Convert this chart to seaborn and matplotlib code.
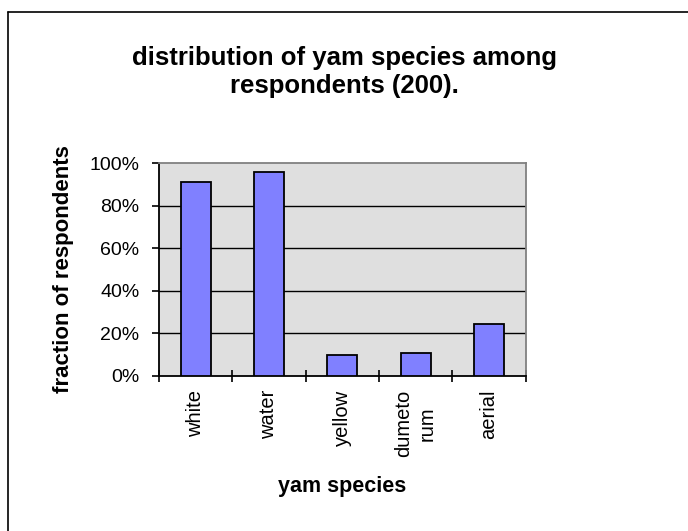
import matplotlib
matplotlib.use("Agg")
import matplotlib.pyplot as plt
from matplotlib.lines import Line2D
from matplotlib.ticker import PercentFormatter, FixedLocator
import seaborn as sns
import pandas as pd

species = ["white", "water", "yellow", "dumeto\nrum", "aerial"]
fraction = [0.91, 0.96, 0.095, 0.105, 0.245]
y_ticks = [0.0, 0.2, 0.4, 0.6, 0.8, 1.0]

sns.set_theme(style="white")
plt.rcParams["font.family"] = ["Liberation Sans", "DejaVu Sans"]
plt.rcParams["text.color"] = "black"
plt.rcParams["axes.labelcolor"] = "black"
plt.rcParams["xtick.color"] = "black"
plt.rcParams["ytick.color"] = "black"

df = pd.DataFrame({"species": species, "fraction": fraction})

fig = plt.figure(figsize=(6.88, 5.31), dpi=100)
ax = fig.add_axes([0.231, 0.2925, 0.533, 0.4005])
ax.set_facecolor("#DFDFDF")

sns.barplot(data=df, x="species", y="fraction", color="#8080FF",
            edgecolor="black", linewidth=1.3, width=0.41, saturation=1,
            ax=ax, zorder=3)

ax.set_ylim(0, 1.0)
ax.set_xlim(-0.5, len(species) - 0.5)
ax.yaxis.set_major_locator(FixedLocator(y_ticks))
ax.yaxis.set_major_formatter(PercentFormatter(1.0, decimals=0))
for y in y_ticks[1:-1]:
    ax.axhline(y, color="black", linewidth=1.0, zorder=1)

# category ticks sit on the boundaries between bars
ax.set_xticks(range(len(species)))
ax.set_xticklabels(species, rotation=90, fontsize=14.5, va="top",
                   ha="center", linespacing=1.3)
ax.tick_params(axis="x", which="major", length=0, pad=10)
ax.set_xticks([i - 0.5 for i in range(len(species) + 1)], minor=True)
ax.tick_params(axis="x", which="minor", direction="inout", length=8,
               width=1.2, color="black", bottom=True)
ax.tick_params(axis="y", direction="out", length=5, width=1.2,
               color="black", labelsize=14, pad=9, left=True)

for side in ["left", "bottom"]:
    ax.spines[side].set_color("black")
    ax.spines[side].set_linewidth(1.3)
for side in ["top", "right"]:
    ax.spines[side].set_color("#808080")
    ax.spines[side].set_linewidth(1.3)

ax.set_xlabel("yam species", fontsize=15.5, fontweight="bold", va="center")
ax.xaxis.set_label_coords(0.5, -0.523)
ax.set_ylabel("fraction of respondents", fontsize=16, fontweight="bold",
              va="center")
ax.yaxis.set_label_coords(-0.259, 0.5)

fig.text(0.5, 1 - 72 / 531,
         "distribution of yam species among\nrespondents (200).",
         ha="center", va="center", fontsize=18.5, fontweight="bold",
         linespacing=1.2)

# chart area outline
fig.add_artist(Line2D([8 / 688, 8 / 688], [0, 1 - 12 / 531],
                      transform=fig.transFigure, color="black", linewidth=1.2))
fig.add_artist(Line2D([8 / 688, 1], [1 - 12 / 531, 1 - 12 / 531],
                      transform=fig.transFigure, color="black", linewidth=1.2))

fig.savefig("out.png", dpi=100)
